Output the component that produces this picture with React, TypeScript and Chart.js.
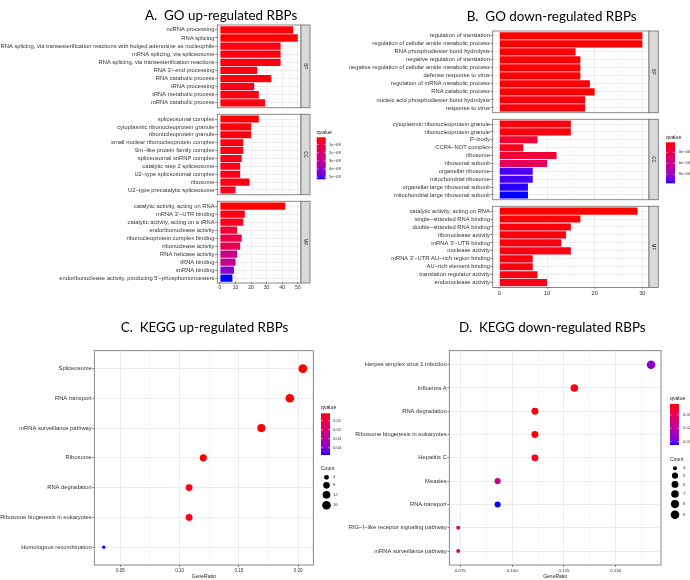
import React, { useEffect, useRef } from 'react';
import { Chart, registerables } from 'chart.js';

Chart.register(...registerables);

// ======================= DATA =======================
// A. GO up-regulated RBPs
const A_BP_TERMS = [
  'ncRNA processing',
  'RNA splicing',
  'RNA splicing, via transesterification reactions with bulged adenosine as nucleophile',
  'mRNA splicing, via spliceosome',
  'RNA splicing, via transesterification reactions',
  "RNA 3'−end processing",
  'RNA catabolic process',
  'tRNA processing',
  'tRNA metabolic process',
  'mRNA catabolic process',
];
const A_BP_COUNT = [47, 50, 39, 39, 39, 24, 33, 22, 25, 29];
const A_BP_QVALUE = [2.0e-9, 1.2e-9, 2.6e-9, 2.4e-9, 2.8e-9, 3.4e-9, 2.2e-9, 3.6e-9, 3.0e-9, 2.9e-9];

const A_CC_TERMS = [
  'spliceosomal complex',
  'cytoplasmic ribonucleoprotein granule',
  'ribonucleoprotein granule',
  'small nuclear ribonucleoprotein complex',
  'Sm−like protein family complex',
  'spliceosomal snRNP complex',
  'catalytic step 2 spliceosome',
  'U2−type spliceosomal complex',
  'ribosome',
  'U2−type precatalytic spliceosome',
];
const A_CC_COUNT = [25, 20, 20, 15, 15, 14, 13, 13, 19, 10];
const A_CC_QVALUE = [1.6e-9, 2.1e-9, 2.3e-9, 3.0e-9, 3.2e-9, 3.5e-9, 3.8e-9, 4.0e-9, 3.3e-9, 4.5e-9];

const A_MF_TERMS = [
  'catalytic activity, acting on RNA',
  "mRNA 3'−UTR binding",
  'catalytic activity, acting on a tRNA',
  'endoribonuclease activity',
  'ribonucleoprotein complex binding',
  'ribonuclease activity',
  'RNA helicase activity',
  'tRNA binding',
  'snRNA binding',
  "endoribonuclease activity, producing 5'−phosphomonoesters",
];
const A_MF_COUNT = [42, 16, 15, 11, 14, 13, 11, 10, 9, 8];
const A_MF_QVALUE = [1.4e-9, 3.9e-9, 4.6e-9, 9.0e-9, 1.25e-8, 1.5e-8, 2.6e-8, 2.8e-8, 4.2e-8, 5.25e-8];

const A_X_MAJOR = [0, 10, 20, 30, 40, 50];
const A_X_MINOR = [5, 15, 25, 35, 45];
const A_Q_BREAKS = [1e-8, 2e-8, 3e-8, 4e-8, 5e-8];
const A_Q_LABELS = ['1e−08', '2e−08', '3e−08', '4e−08', '5e−08'];

// B. GO down-regulated RBPs
const B_BP_TERMS = [
  'regulation of translation',
  'regulation of cellular amide metabolic process',
  'RNA phosphodiester bond hydrolysis',
  'negative regulation of translation',
  'negative regulation of cellular amide metabolic process',
  'defense response to virus',
  'regulation of mRNA metabolic process',
  'RNA catabolic process',
  'nucleic acid phosphodiester bond hydrolysis',
  'response to virus',
];
const B_BP_COUNT = [30, 30, 16, 17, 17, 17, 19, 20, 18, 18];
const B_BP_QVALUE = [2.7e-7, 2.7e-7, 4.5e-7, 3.6e-7, 3.6e-7, 4.0e-7, 3.9e-7, 3.3e-7, 5.2e-7, 4.4e-7];

const B_CC_TERMS = [
  'cytoplasmic ribonucleoprotein granule',
  'ribonucleoprotein granule',
  'P−body',
  'CCR4−NOT complex',
  'ribosome',
  'ribosomal subunit',
  'organellar ribosome',
  'mitochondrial ribosome',
  'organellar large ribosomal subunit',
  'mitochondrial large ribosomal subunit',
];
const B_CC_COUNT = [15, 15, 8, 5, 12, 10, 7, 7, 6, 6];
const B_CC_QVALUE = [4.9e-7, 4.9e-7, 1.61e-6, 8.3e-7, 1.95e-6, 3.6e-6, 1.09e-5, 1.1e-5, 1.13e-5, 1.145e-5];

const B_MF_TERMS = [
  'catalytic activity, acting on RNA',
  'single−stranded RNA binding',
  'double−stranded RNA binding',
  'ribonuclease activity',
  "mRNA 3'−UTR binding",
  'nuclease activity',
  "mRNA 3'−UTR AU−rich region binding",
  'AU−rich element binding',
  'translation regulator activity',
  'endonuclease activity',
];
const B_MF_COUNT = [29, 17, 15, 14, 13, 15, 7, 7, 8, 10];
const B_MF_QVALUE = [2.9e-7, 4.1e-7, 4.8e-7, 5.0e-7, 5.5e-7, 6.0e-7, 6.2e-7, 6.2e-7, 5.8e-7, 7.0e-7];

const B_X_MAJOR = [0, 10, 20, 30];
const B_X_MINOR = [5, 15, 25];
const B_Q_BREAKS = [3e-6, 6e-6, 9e-6];
const B_Q_LABELS = ['3e−06', '6e−06', '9e−06'];

// C. KEGG up-regulated RBPs
const C_TERMS = [
  'Spliceosome',
  'RNA transport',
  'mRNA surveillance pathway',
  'Ribosome',
  'RNA degradation',
  'Ribosome biogenesis in eukaryotes',
  'Homologous recombination',
];
const C_RATIO = [0.204, 0.193, 0.169, 0.12, 0.108, 0.108, 0.036];
const C_COUNT = [17, 16, 14, 10, 9, 9, 3];
const C_QVALUE = [0.0018, 0.0018, 0.0022, 0.0027, 0.0035, 0.0035, 0.0481];
const C_X_MAJOR = [0.05, 0.1, 0.15, 0.2];
const C_X_LABELS = ['0.05', '0.10', '0.15', '0.20'];
const C_X_MINOR = [0.075, 0.125, 0.175];
const C_Q_BREAKS = [0.01, 0.02, 0.03, 0.04];
const C_Q_LABELS = ['0.01', '0.02', '0.03', '0.04'];
const C_SIZE_BREAKS = [4, 8, 12, 16];

// D. KEGG down-regulated RBPs
const D_TERMS = [
  'Herpes simplex virus 1 infection',
  'Influenza A',
  'RNA degradation',
  'Ribosome biogenesis in eukaryotes',
  'Hepatitis C',
  'Measles',
  'RNA transport',
  'RIG−I−like receptor signaling pathway',
  'mRNA surveillance pathway',
];
const D_RATIO = [0.167, 0.13, 0.111, 0.111, 0.111, 0.093, 0.093, 0.074, 0.074];
const D_COUNT = [9, 7, 6, 6, 6, 5, 5, 4, 4];
const D_QVALUE = [0.026, 0.0027, 0.0018, 0.0021, 0.0048, 0.0171, 0.0325, 0.0085, 0.0156];
const D_X_MAJOR = [0.075, 0.1, 0.125, 0.15];
const D_X_LABELS = ['0.075', '0.100', '0.125', '0.150'];
const D_X_MINOR = [0.0875, 0.1125, 0.1375, 0.1625];
const D_Q_BREAKS = [0.01, 0.02, 0.03];
const D_Q_LABELS = ['0.01', '0.02', '0.03'];
const D_SIZE_BREAKS = [4, 5, 6, 7, 8, 9];

const TITLES = ['A.  GO up-regulated RBPs', 'B.  GO down-regulated RBPs', 'C.  KEGG up-regulated RBPs', 'D.  KEGG down-regulated RBPs'];

// ======================= STYLE =======================
const AXIS_FAMILY = "'Liberation Sans', Arial, Helvetica, sans-serif";
const TITLE_FAMILY = "Lato, 'Open Sans', sans-serif";
const TXT = '#333333';
const GRID_MAJOR = '#EBEBEB';
const GRID_MINOR = '#F2F2F2';
const FRAME = '#6B6B6B';
const TICKC = '#555555';

// ---------- colour ramp red -> blue in CIE Lab (like ggplot) ----------
function toLin(c: number) { c /= 255; return c <= 0.04045 ? c / 12.92 : Math.pow((c + 0.055) / 1.055, 2.4); }
function toSrgb(c: number) { c = Math.max(0, Math.min(1, c)); const v = c <= 0.0031308 ? 12.92 * c : 1.055 * Math.pow(c, 1 / 2.4) - 0.055; return Math.round(v * 255); }
function rgbToLab(rgb: number[]) {
  const R = toLin(rgb[0]), G = toLin(rgb[1]), B = toLin(rgb[2]);
  const X = (0.4124 * R + 0.3576 * G + 0.1805 * B) / 0.95047;
  const Y = 0.2126 * R + 0.7152 * G + 0.0722 * B;
  const Z = (0.0193 * R + 0.1192 * G + 0.9505 * B) / 1.08883;
  const f = (t: number) => (t > 0.008856 ? Math.cbrt(t) : 7.787 * t + 16 / 116);
  const fx = f(X), fy = f(Y), fz = f(Z);
  return [116 * fy - 16, 500 * (fx - fy), 200 * (fy - fz)];
}
function labToRgb(lab: number[]) {
  const fy = (lab[0] + 16) / 116, fx = fy + lab[1] / 500, fz = fy - lab[2] / 200;
  const inv = (t: number) => (t * t * t > 0.008856 ? t * t * t : (t - 16 / 116) / 7.787);
  const X = inv(fx) * 0.95047, Y = inv(fy), Z = inv(fz) * 1.08883;
  const R = 3.2406 * X - 1.5372 * Y - 0.4986 * Z;
  const G = -0.9689 * X + 1.8758 * Y + 0.0415 * Z;
  const B = 0.0557 * X - 0.204 * Y + 1.057 * Z;
  return [toSrgb(R), toSrgb(G), toSrgb(B)];
}
const LAB_LOW = rgbToLab([255, 0, 0]);
const LAB_HIGH = rgbToLab([0, 0, 255]);
function ramp(t: number) {
  t = Math.max(0, Math.min(1, t));
  const lab = LAB_LOW.map((v, i) => v + (LAB_HIGH[i] - v) * t);
  const c = labToRgb(lab);
  return `rgb(${c[0]},${c[1]},${c[2]})`;
}
const qColors = (q: number[], lo: number, hi: number) => q.map((v) => ramp((v - lo) / (hi - lo)));

function makeRadius(counts: number[], rMin: number, rMax: number) {
  const lo = Math.min(...counts), hi = Math.max(...counts);
  return (c: number) => rMin + (rMax - rMin) * Math.sqrt(Math.max(0, (c - lo) / (hi - lo)));
}

// ---------- decorations ----------
type Draw = (ctx: CanvasRenderingContext2D) => void;

function drawTitle(ctx: CanvasRenderingContext2D, text: string, x: number, baseline: number) {
  ctx.save();
  ctx.fillStyle = '#000';
  ctx.font = `13.4px ${TITLE_FAMILY}`;
  ctx.textAlign = 'left';
  ctx.textBaseline = 'alphabetic';
  ctx.fillText(text, x, baseline);
  ctx.restore();
}

function drawColorbar(ctx: CanvasRenderingContext2D, o: any) {
  ctx.save();
  ctx.fillStyle = '#1A1A1A';
  ctx.font = `5.2px ${AXIS_FAMILY}`;
  ctx.textAlign = 'left';
  ctx.textBaseline = 'middle';
  ctx.fillText('qvalue', o.x, o.titleY);
  const g = ctx.createLinearGradient(0, o.y, 0, o.y + o.h);
  for (let i = 0; i <= 20; i++) g.addColorStop(i / 20, ramp(i / 20));
  ctx.fillStyle = g;
  ctx.fillRect(o.x, o.y, o.w, o.h);
  ctx.strokeStyle = '#FFFFFF';
  ctx.lineWidth = 0.5;
  ctx.fillStyle = TXT;
  ctx.font = `4.2px ${AXIS_FAMILY}`;
  o.breaks.forEach((b: number, i: number) => {
    const yy = o.y + ((b - o.lo) / (o.hi - o.lo)) * o.h;
    ctx.beginPath();
    ctx.moveTo(o.x, yy); ctx.lineTo(o.x + o.w / 5, yy);
    ctx.moveTo(o.x + o.w, yy); ctx.lineTo(o.x + (o.w * 4) / 5, yy);
    ctx.stroke();
    ctx.fillText(o.labels[i], o.labelX, yy);
  });
  ctx.restore();
}

function drawSizeLegend(ctx: CanvasRenderingContext2D, o: any) {
  ctx.save();
  ctx.fillStyle = '#1A1A1A';
  ctx.font = `5px ${AXIS_FAMILY}`;
  ctx.textAlign = 'left';
  ctx.textBaseline = 'middle';
  ctx.fillText('Count', o.titleX, o.titleY);
  ctx.font = `4.2px ${AXIS_FAMILY}`;
  let y = o.firstY;
  let prev = 0;
  o.counts.forEach((c: number, i: number) => {
    const r = o.radius(c);
    if (i > 0) y += prev + r + o.gap;
    ctx.fillStyle = '#000';
    ctx.beginPath();
    ctx.arc(o.dotX, y, r, 0, Math.PI * 2);
    ctx.fill();
    ctx.fillStyle = TXT;
    ctx.fillText(String(c), o.labelX, y);
    prev = r;
  });
  ctx.restore();
}

// ---------- chart builders ----------
function barFacetConfig(s: any): any {
  const n = s.terms.length;
  const unit = (s.panelBottom - s.panelTop) / (n + 0.2);
  const areaTop = s.panelTop + 0.1 * unit - s.top;
  const areaBottom = s.panelBottom - 0.1 * unit - s.top;
  const xt = [...s.major, ...s.minor].sort((a: number, b: number) => a - b);
  const isMajor = (v: any) => s.major.includes(v);
  return {
    type: 'bar',
    data: {
      labels: s.terms,
      datasets: [{ data: s.counts, backgroundColor: s.colors, borderWidth: 0, barPercentage: 0.9, categoryPercentage: 1 }],
    },
    options: {
      indexAxis: 'y',
      responsive: false,
      maintainAspectRatio: false,
      animation: false,
      events: [],
      layout: { padding: { left: 0, top: areaTop, right: s.width - (s.plotRight - s.left), bottom: 0 } },
      plugins: { legend: { display: false }, tooltip: { enabled: false } },
      scales: {
        x: {
          type: 'linear',
          position: 'bottom',
          min: s.xMin,
          max: s.xMax,
          afterBuildTicks: (sc: any) => { sc.ticks = xt.map((v: number) => ({ value: v })); },
          afterFit: (sc: any) => { sc.height = s.height - areaBottom; },
          ticks: {
            display: s.showX, autoSkip: false, maxRotation: 0, minRotation: 0, padding: s.tickPad,
            color: TXT, font: { family: AXIS_FAMILY, size: s.tickSize },
            callback: (v: number) => (isMajor(v) ? String(v) : ''),
          },
          grid: {
            color: (c: any) => (isMajor(c.tick && c.tick.value) ? GRID_MAJOR : GRID_MINOR),
            lineWidth: (c: any) => (isMajor(c.tick && c.tick.value) ? 0.9 : 0.6),
            drawTicks: s.showX, tickLength: 2, tickWidth: 0.7,
            tickColor: (c: any) => (isMajor(c.tick && c.tick.value) ? TICKC : 'rgba(0,0,0,0)'),
          },
          border: { display: false },
        },
        y: {
          type: 'category',
          position: 'left',
          afterFit: (sc: any) => { sc.width = s.plotLeft - s.left; },
          ticks: { autoSkip: false, padding: 0.6, color: TXT, font: { family: AXIS_FAMILY, size: s.labelSize } },
          grid: { offset: false, color: GRID_MAJOR, lineWidth: 0.9, drawTicks: true, tickLength: 2.2, tickWidth: 0.7, tickColor: TICKC },
          border: { display: false },
        },
      },
    },
    plugins: [
      {
        id: 'facetFrame',
        afterDraw(chart: any) {
          const ctx = chart.ctx as CanvasRenderingContext2D;
          const a = chart.chartArea;
          const t = a.top - 0.1 * unit, b = a.bottom + 0.1 * unit;
          ctx.save();
          ctx.lineWidth = 0.8;
          ctx.strokeStyle = FRAME;
          ctx.strokeRect(a.left, t, a.right - a.left, b - t);
          ctx.fillStyle = '#D9D9D9';
          ctx.fillRect(a.right, t, s.stripW, b - t);
          ctx.strokeRect(a.right, t, s.stripW, b - t);
          ctx.translate(a.right + s.stripW / 2, (t + b) / 2);
          ctx.rotate(Math.PI / 2);
          ctx.fillStyle = '#1A1A1A';
          ctx.font = `4.6px ${AXIS_FAMILY}`;
          ctx.textAlign = 'center';
          ctx.textBaseline = 'middle';
          ctx.fillText(s.strip, 0, 0);
          ctx.restore();
          if (s.extra) {
            ctx.save();
            ctx.translate(-s.left, -s.top);
            (s.extra as Draw)(ctx);
            ctx.restore();
          }
        },
      },
    ],
  };
}

function dotConfig(s: any): any {
  const n = s.terms.length;
  const xt = [...s.major, ...s.minor].sort((a: number, b: number) => a - b);
  const majorIdx = (v: any) => s.major.indexOf(v);
  return {
    type: 'bubble',
    data: {
      datasets: [
        {
          data: s.terms.map((_: string, i: number) => ({ x: s.ratio[i], y: i, r: s.radius(s.count[i]) })),
          backgroundColor: s.colors,
          borderWidth: 0,
          hoverBorderWidth: 0,
        },
      ],
    },
    options: {
      responsive: false,
      maintainAspectRatio: false,
      animation: false,
      events: [],
      layout: { padding: { left: 0, top: s.plotTop - s.top, right: s.width - (s.plotRight - s.left), bottom: 0 } },
      plugins: { legend: { display: false }, tooltip: { enabled: false } },
      scales: {
        x: {
          type: 'linear',
          position: 'bottom',
          min: s.xMin,
          max: s.xMax,
          afterBuildTicks: (sc: any) => { sc.ticks = xt.map((v: number) => ({ value: v })); },
          afterFit: (sc: any) => { sc.height = s.top + s.height - s.plotBottom; },
          ticks: {
            autoSkip: false, maxRotation: 0, minRotation: 0, padding: s.tickPad,
            color: TXT, font: { family: AXIS_FAMILY, size: s.tickSize },
            callback: (v: number) => { const i = majorIdx(v); return i >= 0 ? s.majorLabels[i] : ''; },
          },
          grid: {
            color: (c: any) => (majorIdx(c.tick && c.tick.value) >= 0 ? GRID_MAJOR : GRID_MINOR),
            lineWidth: (c: any) => (majorIdx(c.tick && c.tick.value) >= 0 ? 0.9 : 0.6),
            drawTicks: true, tickLength: 2, tickWidth: 0.7,
            tickColor: (c: any) => (majorIdx(c.tick && c.tick.value) >= 0 ? TICKC : 'rgba(0,0,0,0)'),
          },
          title: { display: true, text: 'GeneRatio', color: '#1A1A1A', font: { family: AXIS_FAMILY, size: 5 }, padding: 0 },
          border: { display: false },
        },
        y: {
          type: 'linear',
          min: -0.6,
          max: n - 0.4,
          reverse: true,
          afterBuildTicks: (sc: any) => { sc.ticks = s.terms.map((_: string, i: number) => ({ value: i })); },
          afterFit: (sc: any) => { sc.width = s.plotLeft - s.left; },
          ticks: {
            autoSkip: false, padding: 0.6, color: TXT, font: { family: AXIS_FAMILY, size: s.labelSize },
            callback: (v: number) => (s.terms[v] !== undefined ? s.terms[v] : ''),
          },
          grid: { color: GRID_MAJOR, lineWidth: 0.9, drawTicks: true, tickLength: 2, tickWidth: 0.7, tickColor: TICKC },
          border: { display: false },
        },
      },
    },
    plugins: [
      {
        id: 'dotFrame',
        afterDraw(chart: any) {
          const ctx = chart.ctx as CanvasRenderingContext2D;
          const a = chart.chartArea;
          ctx.save();
          ctx.lineWidth = 0.8;
          ctx.strokeStyle = FRAME;
          ctx.strokeRect(a.left, a.top, a.right - a.left, a.bottom - a.top);
          ctx.restore();
          if (s.extra) {
            ctx.save();
            ctx.translate(-s.left, -s.top);
            (s.extra as Draw)(ctx);
            ctx.restore();
          }
        },
      },
    ],
  };
}

function ChartBox(props: { left: number; top: number; width: number; height: number; build: () => any }) {
  const ref = useRef<HTMLCanvasElement>(null);
  useEffect(() => {
    const chart = new Chart(ref.current as HTMLCanvasElement, props.build());
    return () => chart.destroy();
  }, []);
  const { left, top, width, height } = props;
  return (
    <canvas ref={ref} width={width} height={height} style={{ position: 'absolute', left, top, width, height, display: 'block' }} />
  );
}

// ======================= APP =======================
export default function App() {
  const aQ = [...A_BP_QVALUE, ...A_CC_QVALUE, ...A_MF_QVALUE];
  const aLo = Math.min(...aQ), aHi = Math.max(...aQ);
  const bQ = [...B_BP_QVALUE, ...B_CC_QVALUE, ...B_MF_QVALUE];
  const bLo = Math.min(...bQ), bHi = Math.max(...bQ);
  const cLo = Math.min(...C_QVALUE), cHi = Math.max(...C_QVALUE);
  const dLo = Math.min(...D_QVALUE), dHi = Math.max(...D_QVALUE);
  const cRadius = makeRadius(C_COUNT, 1.7, 4.4);
  const dRadius = makeRadius(D_COUNT, 2.0, 4.3);

  const aCommon = {
    left: 0, width: 345, plotLeft: 217.3, plotRight: 301, stripW: 9,
    xMin: -1.7, xMax: 52.1, major: A_X_MAJOR, minor: A_X_MINOR,
    labelSize: 5.8, tickSize: 5.1, tickPad: 0,
  };
  const bCommon = {
    left: 345, width: 345, plotLeft: 492.7, plotRight: 649, stripW: 9.3,
    xMin: -1.4, xMax: 31.4, major: B_X_MAJOR, minor: B_X_MINOR,
    labelSize: 5.8, tickSize: 5.7, tickPad: 1,
  };

  return (
    <div style={{ position: 'absolute', left: 0, top: 0, width: 690, height: 580, background: '#ffffff', overflow: 'hidden' }}>
      {/* Panel A */}
      <ChartBox left={0} top={0} width={345} height={111} build={() => barFacetConfig({
        ...aCommon, top: 0, height: 111, terms: A_BP_TERMS, counts: A_BP_COUNT, colors: qColors(A_BP_QVALUE, aLo, aHi),
        strip: 'BP', showX: false, panelTop: 25, panelBottom: 108.8,
        extra: (ctx: CanvasRenderingContext2D) => drawTitle(ctx, TITLES[0], 145, 20),
      })} />
      <ChartBox left={0} top={111} width={345} height={87} build={() => barFacetConfig({
        ...aCommon, top: 111, height: 87, terms: A_CC_TERMS, counts: A_CC_COUNT, colors: qColors(A_CC_QVALUE, aLo, aHi),
        strip: 'CC', showX: false, panelTop: 112.1, panelBottom: 195.9,
        extra: (ctx: CanvasRenderingContext2D) => drawColorbar(ctx, {
          x: 316.7, y: 137.3, w: 9, h: 42, titleY: 132.3, lo: aLo, hi: aHi, breaks: A_Q_BREAKS, labels: A_Q_LABELS, labelX: 329,
        }),
      })} />
      <ChartBox left={0} top={198} width={345} height={100} build={() => barFacetConfig({
        ...aCommon, top: 198, height: 100, terms: A_MF_TERMS, counts: A_MF_COUNT, colors: qColors(A_MF_QVALUE, aLo, aHi),
        strip: 'MF', showX: true, panelTop: 199.2, panelBottom: 283,
      })} />

      {/* Panel B */}
      <ChartBox left={345} top={0} width={345} height={116} build={() => barFacetConfig({
        ...bCommon, top: 0, height: 116, terms: B_BP_TERMS, counts: B_BP_COUNT, colors: qColors(B_BP_QVALUE, bLo, bHi),
        strip: 'BP', showX: false, panelTop: 31, panelBottom: 114.3,
        extra: (ctx: CanvasRenderingContext2D) => drawTitle(ctx, TITLES[1], 466.7, 20.5),
      })} />
      <ChartBox left={345} top={116} width={345} height={87} build={() => barFacetConfig({
        ...bCommon, top: 116, height: 87, terms: B_CC_TERMS, counts: B_CC_COUNT, colors: qColors(B_CC_QVALUE, bLo, bHi),
        strip: 'CC', showX: false, panelTop: 117.6, panelBottom: 200.9,
        extra: (ctx: CanvasRenderingContext2D) => drawColorbar(ctx, {
          x: 666, y: 142.3, w: 9, h: 41, titleY: 137.7, lo: bLo, hi: bHi, breaks: B_Q_BREAKS, labels: B_Q_LABELS, labelX: 678.5,
        }),
      })} />
      <ChartBox left={345} top={203} width={345} height={97} build={() => barFacetConfig({
        ...bCommon, top: 203, height: 97, terms: B_MF_TERMS, counts: B_MF_COUNT, colors: qColors(B_MF_QVALUE, bLo, bHi),
        strip: 'MF', showX: true, panelTop: 204.2, panelBottom: 287.5,
      })} />

      {/* Panel C */}
      <ChartBox left={0} top={300} width={345} height={280} build={() => dotConfig({
        left: 0, top: 300, width: 345, height: 280,
        plotLeft: 94.3, plotRight: 313.3, plotTop: 350.7, plotBottom: 565,
        terms: C_TERMS, ratio: C_RATIO, count: C_COUNT, radius: cRadius, colors: qColors(C_QVALUE, cLo, cHi),
        xMin: 0.028, xMax: 0.2128, major: C_X_MAJOR, majorLabels: C_X_LABELS, minor: C_X_MINOR,
        labelSize: 5.8, tickSize: 4.6, tickPad: 1.2,
        extra: (ctx: CanvasRenderingContext2D) => {
          drawTitle(ctx, TITLES[2], 120.7, 331.7);
          drawColorbar(ctx, { x: 321, y: 413.3, w: 9, h: 41.7, titleY: 407.7, lo: cLo, hi: cHi, breaks: C_Q_BREAKS, labels: C_Q_LABELS, labelX: 333 });
          drawSizeLegend(ctx, { titleX: 321, titleY: 469, dotX: 326.5, firstY: 477.3, labelX: 333, counts: C_SIZE_BREAKS, radius: cRadius, gap: 2.3 });
        },
      })} />

      {/* Panel D */}
      <ChartBox left={345} top={300} width={345} height={280} build={() => dotConfig({
        left: 345, top: 300, width: 345, height: 280,
        plotLeft: 449.3, plotRight: 661, plotTop: 350.7, plotBottom: 565,
        terms: D_TERMS, ratio: D_RATIO, count: D_COUNT, radius: dRadius, colors: qColors(D_QVALUE, dLo, dHi),
        xMin: 0.0697, xMax: 0.1718, major: D_X_MAJOR, majorLabels: D_X_LABELS, minor: D_X_MINOR,
        labelSize: 5.8, tickSize: 4.4, tickPad: 1.2,
        extra: (ctx: CanvasRenderingContext2D) => {
          drawTitle(ctx, TITLES[3], 459, 331.7);
          drawColorbar(ctx, { x: 670, y: 404, w: 9, h: 41, titleY: 398.3, lo: dLo, hi: dHi, breaks: D_Q_BREAKS, labels: D_Q_LABELS, labelX: 683 });
          drawSizeLegend(ctx, { titleX: 670, titleY: 459.3, dotX: 675, firstY: 468.3, labelX: 683, counts: D_SIZE_BREAKS, radius: dRadius, gap: 2.3 });
        },
      })} />
    </div>
  );
}
